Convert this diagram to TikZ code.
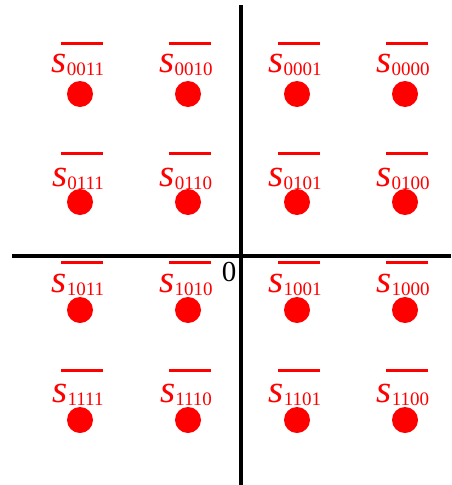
\documentclass[tikz,border=0pt]{standalone}
\usepackage{fontspec}
\setmainfont{Liberation Serif}
\newfontfamily\symitalic{Liberation Serif Italic}
\usepackage{xcolor}
\definecolor{sigred}{RGB}{255, 0, 0}
\newcommand{\subfont}{\fontsize{19}{19}\selectfont}
\newcommand{\symfont}{\fontsize{39}{39}\selectfont}
% one constellation point: name, x, dot y, label baseline y, bar y, bits
\newcommand{\constpt}[6]{%
  \node[dot] (#1) at (#2,#3) {};
  \node[symlabel] (#1-lbl) at ({#2-2},#4) {{\symitalic s}\raisebox{-3pt}{\subfont #6}};
  \draw[symbar] ({#2-19},#5) -- ({#2+23},#5);
}

\begin{document}
\begin{tikzpicture}[
  x=1pt, y=-1pt,
  dot/.style={circle, fill=sigred, draw=none, minimum size=26pt, inner sep=0pt},
  symlabel/.style={anchor=base, inner sep=0pt, text=sigred, font=\symfont},
  symbar/.style={draw=sigred, line width=3pt},
  axis/.style={draw=black, line width=3.5pt}
]
\useasboundingbox (0,0) rectangle (451,485);

% axes
\coordinate (xl) at (12,256);
\coordinate (xr) at (451,256);
\coordinate (yt) at (241,5);
\coordinate (yb) at (241,485);
\draw[axis] (xl) -- (xr);
\draw[axis] (yt) -- (yb);
\node[font=\fontsize{29}{29}\selectfont, inner sep=0pt] (origin) at (229,272) {0};

% first row
\constpt{p0011}{80}{94}{72}{43.5}{0011}
\constpt{p0010}{188}{94}{72}{43.5}{0010}
\constpt{p0001}{297}{94}{72}{43.5}{0001}
\constpt{p0000}{405}{94}{72}{43.5}{0000}

% second row
\constpt{p0111}{80}{202}{186}{153}{0111}
\constpt{p0110}{188}{202}{186}{153}{0110}
\constpt{p0101}{297}{202}{186}{153}{0101}
\constpt{p0100}{405}{202}{186}{153}{0100}

% third row
\constpt{p1011}{80}{310}{292}{262}{1011}
\constpt{p1010}{188}{310}{292}{262}{1010}
\constpt{p1001}{297}{310}{292}{262}{1001}
\constpt{p1000}{405}{310}{292}{262}{1000}

% fourth row
\constpt{p1111}{80}{420}{402}{370}{1111}
\constpt{p1110}{188}{420}{402}{370}{1110}
\constpt{p1101}{297}{420}{402}{370}{1101}
\constpt{p1100}{405}{420}{402}{370}{1100}
\end{tikzpicture}
\end{document}
